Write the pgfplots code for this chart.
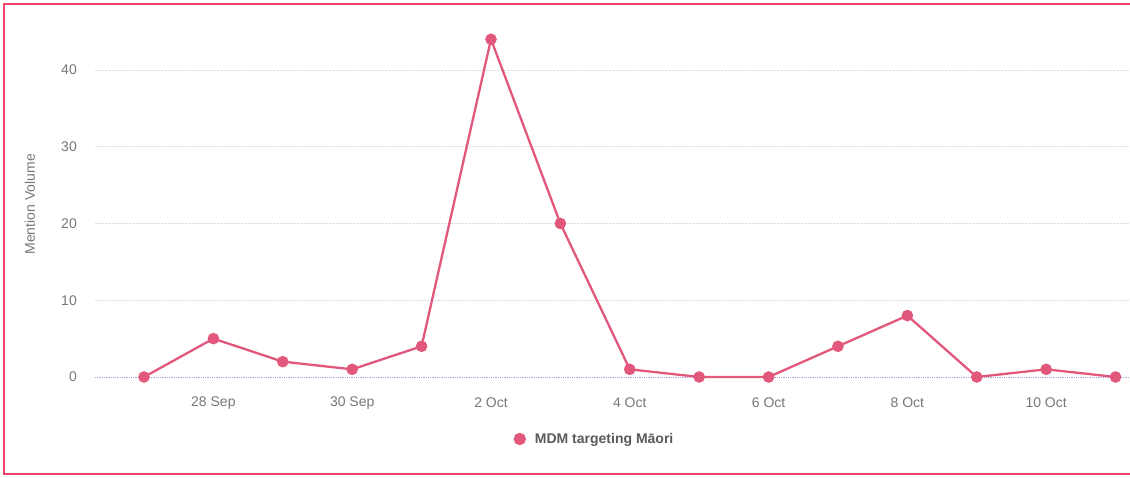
\documentclass[border=0pt]{standalone}
\usepackage{fontspec}
\setmainfont{Liberation Sans}
\usepackage{pgfplots}
\pgfplotsset{compat=1.18}
\definecolor{linecol}{RGB}{226,88,124}
\definecolor{framecol}{RGB}{240,70,105}
\definecolor{ticktext}{RGB}{120,120,120}
\definecolor{legtext}{RGB}{90,90,90}
\definecolor{gridcol}{RGB}{222,222,222}
\definecolor{zerocol}{RGB}{160,170,210}
\pgfplotstableread{
d v
0 0
1 5
2 2
3 1
4 4
5 44
6 20
7 1
8 0
9 0
10 4
11 8
12 0
13 1
14 0
}\mentions
\begin{document}
\begin{tikzpicture}[x=1pt,y=1pt]
\useasboundingbox (0,0) rectangle (1130,477);
\begin{scope}
\clip (0,0) rectangle (1130,477);
\fill[white] (0,0) rectangle (1130,477);
\draw[framecol, line width=1.6pt] (4,3) rectangle (1145,473);
\begin{axis}[
  at={(95pt,100pt)}, anchor=south west,
  scale only axis, width=1035pt, height=345.4pt,
  xmin=-0.706, xmax=14.208, ymin=0, ymax=45,
  clip=false,
  axis line style={draw=none},
  tick style={draw=none},
  major tick length=0pt,
  xtick={1,3,5,7,9,11,13},
  xticklabels={28 Sep,30 Sep,2 Oct,4 Oct,6 Oct,8 Oct,10 Oct},
  ytick={10,20,30,40},
  extra y ticks={0},
  extra y tick style={grid style={zerocol, densely dotted, line width=0.8pt}},
  ymajorgrids,
  grid style={gridcol, densely dotted, line width=0.8pt},
  ticklabel style={font=\fontsize{14}{16}\selectfont, text=ticktext, inner sep=0pt},
  yticklabel style={anchor=east, xshift=-18pt},
  xticklabel style={anchor=center, yshift=-26pt},
  /pgf/number format/assume math mode=true,
  ylabel={Mention Volume},
  ylabel style={font=\fontsize{14}{16}\selectfont, text=ticktext, at={(axis description cs:-0.0628,0.5)}, anchor=center, inner sep=0pt},
  legend style={at={(axis description cs:0.4826,-0.1795)}, anchor=center, draw=none, fill=none,
    font=\fontsize{14}{16}\selectfont\bfseries, text=legtext, inner sep=0pt},
  legend cell align=left,
  legend image code/.code={\fill[linecol] (0pt,0) circle (5pt); \path (12pt,0);},
]
\addplot[linecol, line width=2.3pt, mark=*, mark size=4.6pt, mark options={fill=linecol, draw=none}] table[x=d,y=v] {\mentions};
\addlegendentry{MDM targeting Māori}
\end{axis}
\end{scope}
\end{tikzpicture}
\end{document}
